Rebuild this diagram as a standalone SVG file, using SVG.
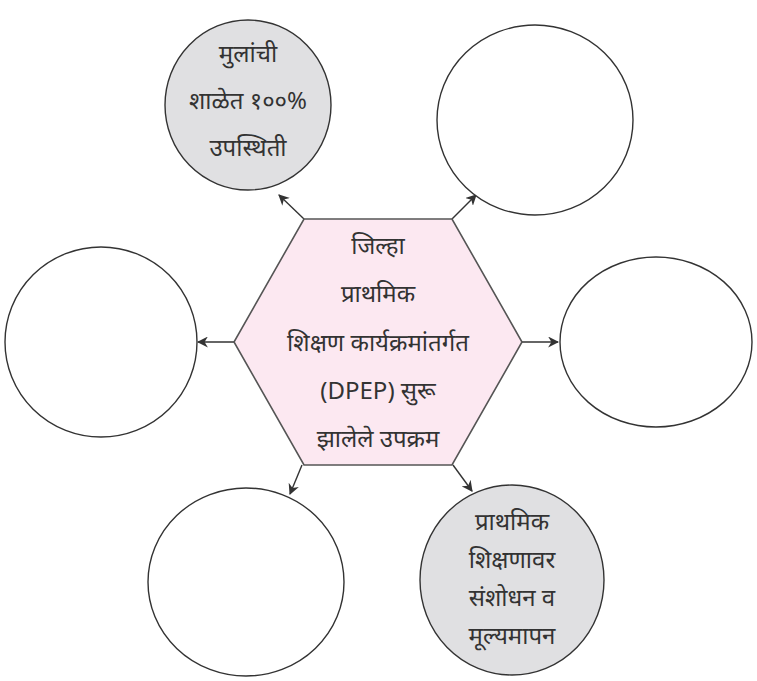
<svg xmlns="http://www.w3.org/2000/svg" width="757" height="681" viewBox="0 0 757 681">
<style>
.c{stroke:#333;stroke-width:1.4;fill:#fff}
.g{fill:#e0e0e2}
.t{font-family:"Noto Sans","Noto Sans Devanagari","Lohit Devanagari",sans-serif;font-size:24px;fill:#333;text-anchor:middle}
.a{stroke:#333;stroke-width:1.4;fill:none;marker-end:url(#ar)}
</style>
<defs><marker id="ar" viewBox="0 0 10 10" refX="9" refY="5" markerWidth="11" markerHeight="11" markerUnits="userSpaceOnUse" orient="auto"><path d="M0,0L10,5L0,10L3,5z" fill="#333"/></marker></defs>
<g id="connectors">
<line class="a" x1="304" y1="219" x2="279" y2="195"/>
<line class="a" x1="452" y1="219" x2="476" y2="195"/>
<line class="a" x1="234" y1="342" x2="198" y2="342"/>
<line class="a" x1="522" y1="342" x2="558" y2="342"/>
<line class="a" x1="302" y1="465" x2="290" y2="494"/>
<line class="a" x1="453" y1="465" x2="472" y2="491"/>
</g>
<g id="hub"><polygon points="304,219 452,219 522,342 452,465 304,465 234,342" fill="#fce8f1" stroke="#555" stroke-width="1.6"/>
<text class="t" x="378" y="254">जिल्हा</text>
<text class="t" x="378" y="302">प्राथमिक</text>
<text class="t" x="378" y="351">शिक्षण कार्यक्रमांतर्गत</text>
<text class="t" x="378" y="399">(DPEP) सुरू</text>
<text class="t" x="378" y="447">झालेले उपक्रम</text></g>
<g id="n1"><ellipse class="c g" cx="248" cy="105" rx="83" ry="85"/>
<text class="t" x="248" y="62">मुलांची</text>
<text class="t" x="248" y="109">शाळेत १००%</text>
<text class="t" x="248" y="156">उपस्थिती</text></g>
<g id="n2"><ellipse class="c" cx="535" cy="120" rx="98" ry="95"/></g>
<g id="n3"><ellipse class="c" cx="101" cy="342" rx="96" ry="95"/></g>
<g id="n4"><ellipse class="c" cx="656" cy="342" rx="96" ry="85"/></g>
<g id="n5"><ellipse class="c" cx="246" cy="582" rx="98" ry="94"/></g>
<g id="n6"><ellipse class="c g" cx="512" cy="580" rx="92" ry="95"/>
<text class="t" x="512" y="530">प्राथमिक</text>
<text class="t" x="512" y="568">शिक्षणावर</text>
<text class="t" x="512" y="606">संशोधन व</text>
<text class="t" x="512" y="644">मूल्यमापन</text></g>
</svg>
